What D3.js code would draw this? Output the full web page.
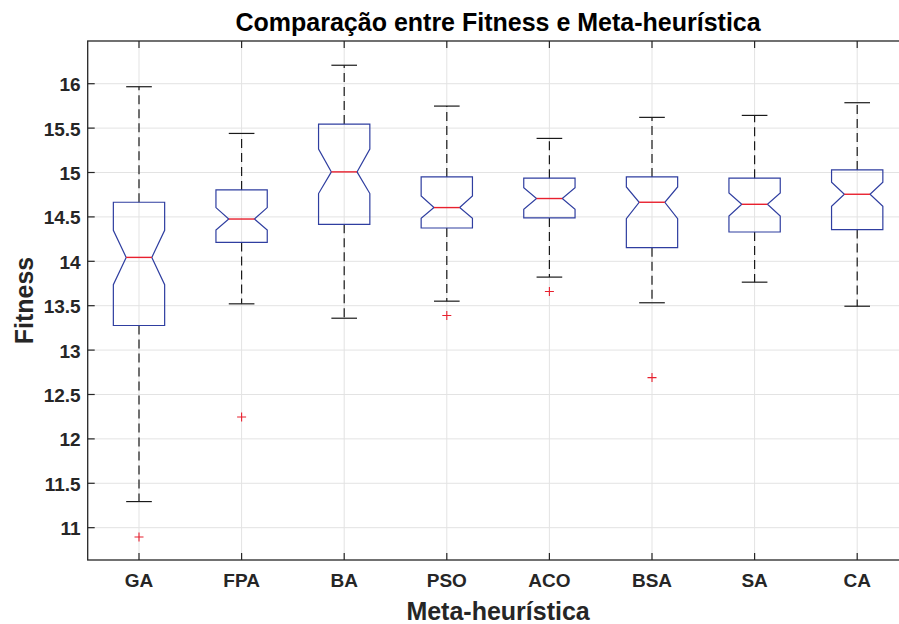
<!DOCTYPE html>
<html>
<head>
<meta charset="utf-8">
<script src="https://cdn.jsdelivr.net/npm/d3@7"></script>
<style>
  html, body { margin: 0; padding: 0; background: #fff; }
  svg { display: block; font-family: "Liberation Sans", Arial, Helvetica, sans-serif; }
</style>
</head>
<body>
<svg id="chart" width="899" height="624"></svg>
<script>
// ---- data ----
const categories = ["GA", "FPA", "BA", "PSO", "ACO", "BSA", "SA", "CA"];
const q1Values      = [13.277, 14.213, 14.416, 14.375, 14.488, 14.153, 14.330, 14.357];
const medianValues  = [14.044, 14.476, 15.007, 14.605, 14.707, 14.665, 14.642, 14.755];
const q3Values      = [14.665, 14.804, 15.545, 14.950, 14.936, 14.950, 14.936, 15.029];
const whiskerLow    = [11.294, 13.521, 13.359, 13.551, 13.822, 13.533, 13.765, 13.494];
const whiskerHigh   = [15.966, 15.440, 16.208, 15.748, 15.384, 15.621, 15.643, 15.786];
const notchLow      = [13.736, 14.352, 14.763, 14.484, 14.585, 14.481, 14.510, 14.620];
const notchHigh     = [14.349, 14.605, 15.263, 14.735, 14.830, 14.837, 14.770, 14.890];
const outlierValues = [[10.895], [12.246], [], [13.389], [13.660], [12.690], [], []];
const yTicks = [11, 11.5, 12, 12.5, 13, 13.5, 14, 14.5, 15, 15.5, 16];
const yTickLabels = ["11", "11.5", "12", "12.5", "13", "13.5", "14", "14.5", "15", "15.5", "16"];
const yDomain = [10.636, 16.481];
const titleText = "Comparação entre Fitness e Meta-heurística";
const xLabelText = "Meta-heurística";
const yLabelText = "Fitness";

// ---- layout ----
const plot = { left: 87.7, right: 908.5, top: 41, bottom: 560 };
const svg = d3.select("#chart");
svg.append("rect").attr("width", 899).attr("height", 624).attr("fill", "#fff");

const x = d3.scaleBand().domain(categories).range([plot.left, plot.right]).paddingInner(0).paddingOuter(0);
const y = d3.scaleLinear().domain(yDomain).range([plot.bottom, plot.top]);
const cx = c => x(c) + x.bandwidth() / 2;
const boxW = x.bandwidth() * 0.5;
const capW = x.bandwidth() * 0.25;

const axColor = "#262626";
const gridColor = "#e3e3e3";

// grid
const grid = svg.append("g");
grid.selectAll("line.gy").data(yTicks).join("line")
  .attr("x1", plot.left).attr("x2", plot.right)
  .attr("y1", d => y(d)).attr("y2", d => y(d))
  .attr("stroke", gridColor).attr("stroke-width", 1);
grid.selectAll("line.gx").data(categories).join("line")
  .attr("x1", d => cx(d)).attr("x2", d => cx(d))
  .attr("y1", plot.top).attr("y2", plot.bottom)
  .attr("stroke", gridColor).attr("stroke-width", 1);

// boxes
const stats = categories.map((c, i) => ({
  c, q1: q1Values[i], med: medianValues[i], q3: q3Values[i],
  lo: whiskerLow[i], hi: whiskerHigh[i], nlo: notchLow[i], nhi: notchHigh[i],
  out: outlierValues[i]
}));

const g = svg.append("g");
stats.forEach(s => {
  const xc = cx(s.c);
  const L = xc - boxW / 2, R = xc + boxW / 2;
  const nL = xc - boxW / 4, nR = xc + boxW / 4;
  // whiskers
  g.append("line").attr("x1", xc).attr("x2", xc).attr("y1", y(s.q3)).attr("y2", y(s.hi))
    .attr("stroke", "#1a1a1a").attr("stroke-width", 1.2).attr("stroke-dasharray", "9,5");
  g.append("line").attr("x1", xc).attr("x2", xc).attr("y1", y(s.q1)).attr("y2", y(s.lo))
    .attr("stroke", "#1a1a1a").attr("stroke-width", 1.2).attr("stroke-dasharray", "9,5");
  // caps
  [s.hi, s.lo].forEach(v => {
    g.append("line").attr("x1", xc - capW / 2).attr("x2", xc + capW / 2)
      .attr("y1", y(v)).attr("y2", y(v))
      .attr("stroke", "#1a1a1a").attr("stroke-width", 1.2);
  });
  // notched box
  const pts = [
    [L, y(s.q1)], [L, y(s.nlo)], [nL, y(s.med)], [L, y(s.nhi)], [L, y(s.q3)],
    [R, y(s.q3)], [R, y(s.nhi)], [nR, y(s.med)], [R, y(s.nlo)], [R, y(s.q1)]
  ];
  g.append("path").attr("d", d3.line()(pts) + "Z")
    .attr("fill", "none").attr("stroke", "#2f3ea0").attr("stroke-width", 1.2);
  // median
  g.append("line").attr("x1", nL).attr("x2", nR).attr("y1", y(s.med)).attr("y2", y(s.med))
    .attr("stroke", "#e8202e").attr("stroke-width", 1.4);
  // outliers
  s.out.forEach(v => {
    const oy = y(v), h = 4.5;
    g.append("path").attr("d", `M${xc - h},${oy}H${xc + h}M${xc},${oy - h}V${oy + h}`)
      .attr("stroke", "#e8202e").attr("stroke-width", 1.1).attr("fill", "none");
  });
});

// axes frame
svg.append("rect").attr("x", plot.left).attr("y", plot.top)
  .attr("width", plot.right - plot.left).attr("height", plot.bottom - plot.top)
  .attr("fill", "none").attr("stroke", axColor).attr("stroke-width", 1.3);

// ticks (inward)
const tl = 7;
svg.append("g").selectAll("line").data(yTicks).join("line")
  .attr("x1", plot.left).attr("x2", plot.left + tl)
  .attr("y1", d => y(d)).attr("y2", d => y(d))
  .attr("stroke", axColor).attr("stroke-width", 1.2);
svg.append("g").selectAll("line").data(categories).join("line")
  .attr("x1", d => cx(d)).attr("x2", d => cx(d))
  .attr("y1", plot.bottom).attr("y2", plot.bottom - tl)
  .attr("stroke", axColor).attr("stroke-width", 1.2);
svg.append("g").selectAll("line").data(categories).join("line")
  .attr("x1", d => cx(d)).attr("x2", d => cx(d))
  .attr("y1", plot.top).attr("y2", plot.top + tl)
  .attr("stroke", axColor).attr("stroke-width", 1.2);

// tick labels
svg.append("g").selectAll("text").data(yTicks).join("text")
  .attr("x", plot.left - 7).attr("y", d => y(d) + 7.5)
  .attr("text-anchor", "end").attr("font-size", 19).attr("font-weight", "bold")
  .attr("fill", axColor).text((d, i) => yTickLabels[i]);
svg.append("g").selectAll("text").data(categories).join("text")
  .attr("x", d => cx(d)).attr("y", 587)
  .attr("text-anchor", "middle").attr("font-size", 19).attr("font-weight", "bold")
  .attr("fill", axColor).text(d => d);

// labels
const midX = (plot.left + plot.right) / 2;
svg.append("text").attr("x", midX).attr("y", 31).attr("text-anchor", "middle")
  .attr("font-size", 25).attr("font-weight", "bold").attr("fill", "#000").text(titleText);
svg.append("text").attr("x", midX).attr("y", 620).attr("text-anchor", "middle")
  .attr("font-size", 25).attr("font-weight", "bold").attr("fill", axColor).text(xLabelText);
svg.append("text").attr("transform", `translate(33,${(plot.top + plot.bottom) / 2}) rotate(-90)`)
  .attr("text-anchor", "middle")
  .attr("font-size", 25).attr("font-weight", "bold").attr("fill", axColor).text(yLabelText);
</script>
</body>
</html>
